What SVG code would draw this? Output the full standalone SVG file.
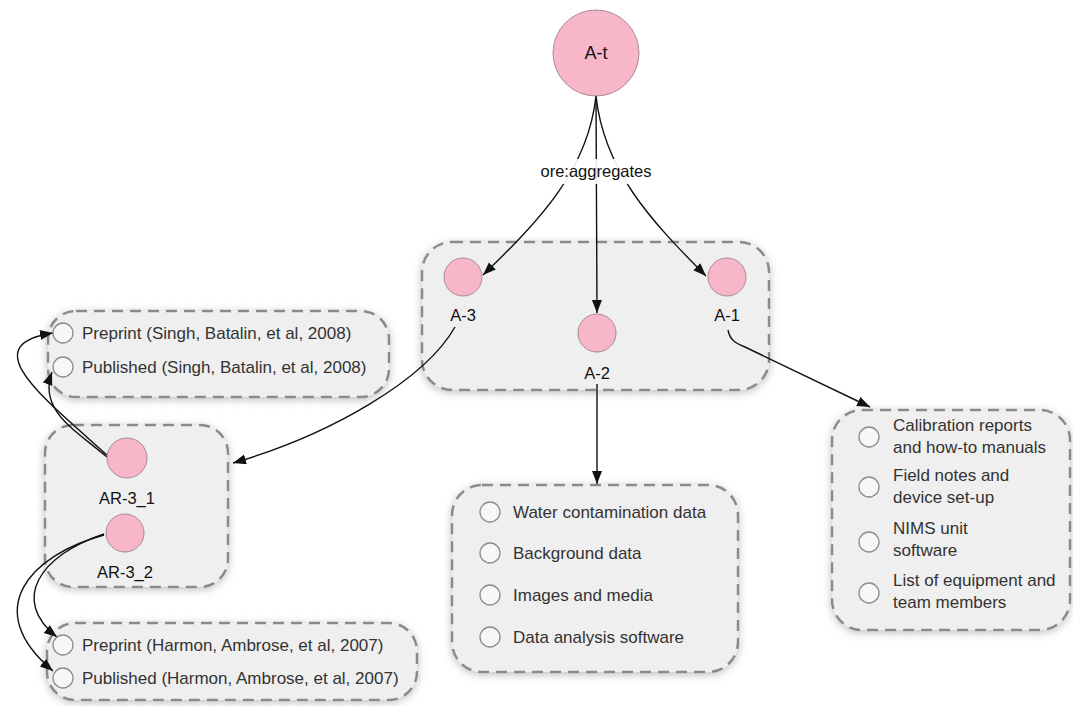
<svg xmlns="http://www.w3.org/2000/svg" width="1073" height="706" viewBox="0 0 1073 706">
<style>
.box{fill:#efefef;stroke:#8a8a8a;stroke-width:2.5;stroke-dasharray:11 7;filter:url(#sh)}
.node{fill:#f8b7c9;stroke:#a88a94;stroke-width:1}
.item{fill:#f7f7f7;stroke:#8c8c8c;stroke-width:1.3}
.lbl{font-family:"Liberation Sans",Arial,sans-serif;font-size:16.5px;fill:#111;text-anchor:middle}
.txt{font-family:"Liberation Sans",Arial,sans-serif;font-size:17px;fill:#333}
.edge{fill:none;stroke:#111;stroke-width:1.4;marker-end:url(#arr)}
</style>
<defs>
<filter id="sh" x="-20%" y="-20%" width="140%" height="140%">
<feDropShadow dx="0" dy="2" stdDeviation="4" flood-color="#000" flood-opacity="0.25"/>
</filter>
<marker id="arr" markerUnits="userSpaceOnUse" markerWidth="14" markerHeight="12" refX="13" refY="5" orient="auto">
<path d="M0,0 L13,5 L0,10 z" fill="#111"/>
</marker>
</defs>
<rect width="1073" height="706" fill="#fff"/>

<g id="group-A">
<rect class="box" x="422" y="242" width="347" height="148" rx="30"/>
</g>
<g id="group-singh">
<rect class="box" x="48" y="311" width="341" height="86" rx="28"/>
</g>
<g id="group-AR">
<rect class="box" x="45" y="425" width="183" height="162" rx="28"/>
</g>
<g id="group-harmon">
<rect class="box" x="47" y="623" width="370" height="77" rx="28"/>
</g>
<g id="group-data">
<rect class="box" x="452" y="485" width="286" height="187" rx="30"/>
</g>
<g id="group-cal">
<rect class="box" x="832" y="410" width="238" height="220" rx="30"/>
</g>

<g id="connectors">
<path class="edge" d="M596,96 C588,170 540,220 483,275"/>
<path class="edge" d="M596,96 L597,313"/>
<path class="edge" d="M596,96 C604,170 650,220 706,276"/>
<path class="edge" d="M455,327 C425,380 330,435 233,463"/>
<path class="edge" d="M597,384 L597,484"/>
<path class="edge" d="M728,330 C730,340 735,343 745,347 L870,407"/>
<path class="edge" d="M107,455 C40,395 -25,345 53,333"/>
<path class="edge" d="M107,457 C75,430 38,410 52,372"/>
<path class="edge" d="M104,534 C40,555 10,600 57,637"/>
<path class="edge" d="M104,535 C30,555 -20,610 53,671"/>
</g>

<g id="label-aggregates">
<rect x="533" y="159" width="126" height="25" fill="#fff" opacity="0.9"/>
<text class="lbl" x="596" y="177">ore:aggregates</text>
</g>

<g id="node-At">
<circle class="node" cx="596" cy="53" r="43"/>
<text class="lbl" x="596" y="59" style="font-size:18px">A-t</text>
</g>
<g id="node-A3">
<circle class="node" cx="463" cy="277" r="19"/>
<text class="lbl" x="463" y="321">A-3</text>
</g>
<g id="node-A2">
<circle class="node" cx="597" cy="333" r="19"/>
<text class="lbl" x="597" y="379">A-2</text>
</g>
<g id="node-A1">
<circle class="node" cx="727" cy="277" r="19"/>
<text class="lbl" x="727" y="321">A-1</text>
</g>
<g id="node-AR31">
<circle class="node" cx="127" cy="458" r="20"/>
<text class="lbl" x="127" y="504">AR-3_1</text>
</g>
<g id="node-AR32">
<circle class="node" cx="125" cy="533" r="19"/>
<text class="lbl" x="125" y="578">AR-3_2</text>
</g>

<g id="items-singh">
<circle class="item" cx="63" cy="333" r="10"/>
<text class="txt" x="82" y="339">Preprint (Singh, Batalin, et al, 2008)</text>
<circle class="item" cx="63" cy="367" r="10"/>
<text class="txt" x="82" y="373">Published (Singh, Batalin, et al, 2008)</text>
</g>
<g id="items-harmon">
<circle class="item" cx="63" cy="645" r="10"/>
<text class="txt" x="82" y="651">Preprint (Harmon, Ambrose, et al, 2007)</text>
<circle class="item" cx="63" cy="678" r="10"/>
<text class="txt" x="82" y="684">Published (Harmon, Ambrose, et al, 2007)</text>
</g>
<g id="items-data">
<circle class="item" cx="490" cy="512" r="10"/>
<text class="txt" x="513" y="518">Water contamination data</text>
<circle class="item" cx="490" cy="553" r="10"/>
<text class="txt" x="513" y="559">Background data</text>
<circle class="item" cx="490" cy="595" r="10"/>
<text class="txt" x="513" y="601">Images and media</text>
<circle class="item" cx="490" cy="637" r="10"/>
<text class="txt" x="513" y="643">Data analysis software</text>
</g>
<g id="items-cal">
<circle class="item" cx="869" cy="437" r="10"/>
<text class="txt" x="893" y="431">Calibration reports</text>
<text class="txt" x="893" y="453">and how-to manuals</text>
<circle class="item" cx="869" cy="487" r="10"/>
<text class="txt" x="893" y="481">Field notes and</text>
<text class="txt" x="893" y="503">device set-up</text>
<circle class="item" cx="869" cy="542" r="10"/>
<text class="txt" x="893" y="534">NIMS unit</text>
<text class="txt" x="893" y="556">software</text>
<circle class="item" cx="869" cy="593" r="10"/>
<text class="txt" x="893" y="586">List of equipment and</text>
<text class="txt" x="893" y="608">team members</text>
</g>
</svg>
